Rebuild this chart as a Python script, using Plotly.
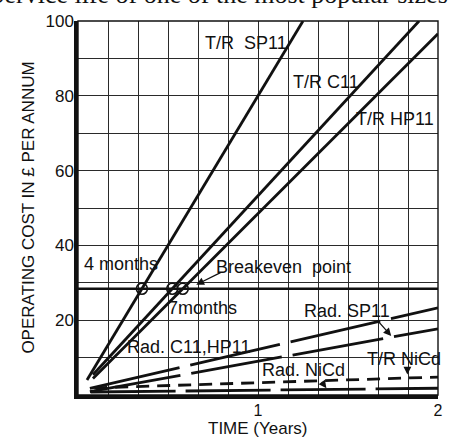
import numpy as np
import plotly.graph_objects as go

# Operating cost (pounds per annum) against time (years), straight-line segments
tr_sp11_t, tr_sp11_cost = [0.05, 1.25], [4.0, 100.0]
tr_c11_t, tr_c11_cost = [0.083, 1.895], [5.4, 100.0]
tr_hp11_t, tr_hp11_cost = [0.083, 2.0], [4.4, 96.6]
rad_c11hp11_t, rad_c11hp11_cost = [0.066, 2.0], [1.8, 23.3]
rad_sp11_t, rad_sp11_cost = [0.066, 2.0], [0.9, 17.7]
tr_nicd_t, tr_nicd_cost = [0.09, 2.0], [1.9, 4.8]
rad_nicd_t, rad_nicd_cost = [0.07, 2.0], [0.8, 1.8]
breakeven_t, breakeven_cost = [0.0, 2.0], [28.4, 28.4]

x_tick_vals = [1, 2]
x_tick_text = ["1", "2"]
y_tick_vals = [20, 40, 60, 80, 100]

FONT = "Liberation Sans, Arial, sans-serif"
INK = "#111111"

fig = go.Figure()

def add_line(t, c, width=2.8, dash="solid"):
    fig.add_trace(go.Scatter(x=t, y=c, mode="lines",
                             line=dict(color=INK, width=width, dash=dash),
                             hoverinfo="skip", showlegend=False))

add_line(breakeven_t, breakeven_cost, width=2.6)
add_line(tr_sp11_t, tr_sp11_cost)
add_line(tr_c11_t, tr_c11_cost)
add_line(tr_hp11_t, tr_hp11_cost)
add_line(rad_c11hp11_t, rad_c11hp11_cost, dash="92px,11px")
add_line(rad_sp11_t, rad_sp11_cost, dash="92px,11px")
add_line(tr_nicd_t, tr_nicd_cost, dash="13px,8px")
add_line(rad_nicd_t, rad_nicd_cost, dash="85px,10px")

# Breakeven points: where each T/R line crosses the breakeven cost
be_t = []
for t, c in [(tr_sp11_t, tr_sp11_cost), (tr_c11_t, tr_c11_cost), (tr_hp11_t, tr_hp11_cost)]:
    be_t.append(float(np.interp(breakeven_cost[0], c, t)))
fig.add_trace(go.Scatter(x=be_t, y=[breakeven_cost[0]] * len(be_t), mode="markers",
                         marker=dict(symbol="circle-open", size=11, color=INK,
                                     line=dict(width=1.6, color=INK)),
                         hoverinfo="skip", showlegend=False))

labels = [
    ("T/R  SP11", 0.934, 94.0, "center"),
    ("T/R C11", 1.376, 83.7, "center"),
    ("T/R HP11", 1.76, 73.7, "center"),
    ("4 months", 0.022, 35.0, "left"),
    ("Breakeven  point", 1.144, 34.3, "center"),
    ("7months", 0.69, 23.2, "center"),
    ("Rad. C11,HP11", 0.613, 12.9, "center"),
    ("Rad. SP11", 1.497, 22.4, "center"),
    ("T/R NiCd", 1.81, 9.7, "center"),
    ("Rad. NiCd", 1.25, 6.6, "center"),
]
for text, x, y, anchor in labels:
    fig.add_annotation(x=x, y=y, text=text, showarrow=False, xanchor=anchor,
                       yanchor="middle", font=dict(family=FONT, size=18, color=INK))

arrows = [
    (0.657, 29.5, 0.80, 32.9),
    (1.74, 15.8, 1.657, 20.3),
    (1.83, 5.5, 1.83, 7.8),
    (1.38, 1.8, 1.348, 3.9),
]
for x, y, ax, ay in arrows:
    fig.add_annotation(x=x, y=y, ax=ax, ay=ay, axref="x", ayref="y", text="",
                       showarrow=True, arrowhead=2, arrowsize=1.2, arrowwidth=1.3,
                       arrowcolor=INK)

# Running text of the page above the chart
fig.add_annotation(x=1.033, y=1.028, xref="paper", yref="paper", xanchor="right",
                   yanchor="bottom", showarrow=False,
                   text="Service life of one of the most popular sizes",
                   font=dict(family="Liberation Serif, serif", size=26, color=INK))

fig.add_annotation(x=-0.14, y=0.5, xref="paper", yref="paper", textangle=-90,
                   xanchor="center", yanchor="middle",
                   showarrow=False, text="OPERATING COST IN £ PER ANNUM",
                   font=dict(family=FONT, size=17, color=INK))
fig.add_annotation(x=0.5, y=-0.089, xref="paper", yref="paper",
                   xanchor="center", yanchor="middle",
                   showarrow=False, text="TIME (Years)",
                   font=dict(family=FONT, size=17, color=INK))

fig.add_shape(type="rect", xref="paper", yref="paper", x0=0, y0=0, x1=1, y1=1,
              line=dict(color=INK, width=1.4))

fig.update_xaxes(range=[0, 2], tickvals=x_tick_vals, ticktext=x_tick_text,
                 showgrid=True, gridcolor="#2a2a2a", gridwidth=1,
                 minor=dict(dtick=1 / 6, showgrid=True, gridcolor="#2a2a2a", gridwidth=1),
                 showline=True, linecolor=INK, linewidth=3.5, zeroline=False,
                 ticks="", ticklabelstandoff=-2,
                 tickfont=dict(family=FONT, size=16, color=INK))
fig.update_yaxes(range=[0, 100], tickvals=y_tick_vals,
                 showgrid=True, gridcolor="#2a2a2a", gridwidth=1,
                 minor=dict(dtick=10, showgrid=True, gridcolor="#2a2a2a", gridwidth=1),
                 showline=True, linecolor=INK, linewidth=3.5, zeroline=False,
                 ticks="", ticklabelstandoff=-3,
                 tickfont=dict(family=FONT, size=17, color=INK))

fig.update_layout(width=455, height=439, margin=dict(l=78, r=15, t=15, b=44),
                  plot_bgcolor="white", paper_bgcolor="white")

fig.write_html("out.html")
